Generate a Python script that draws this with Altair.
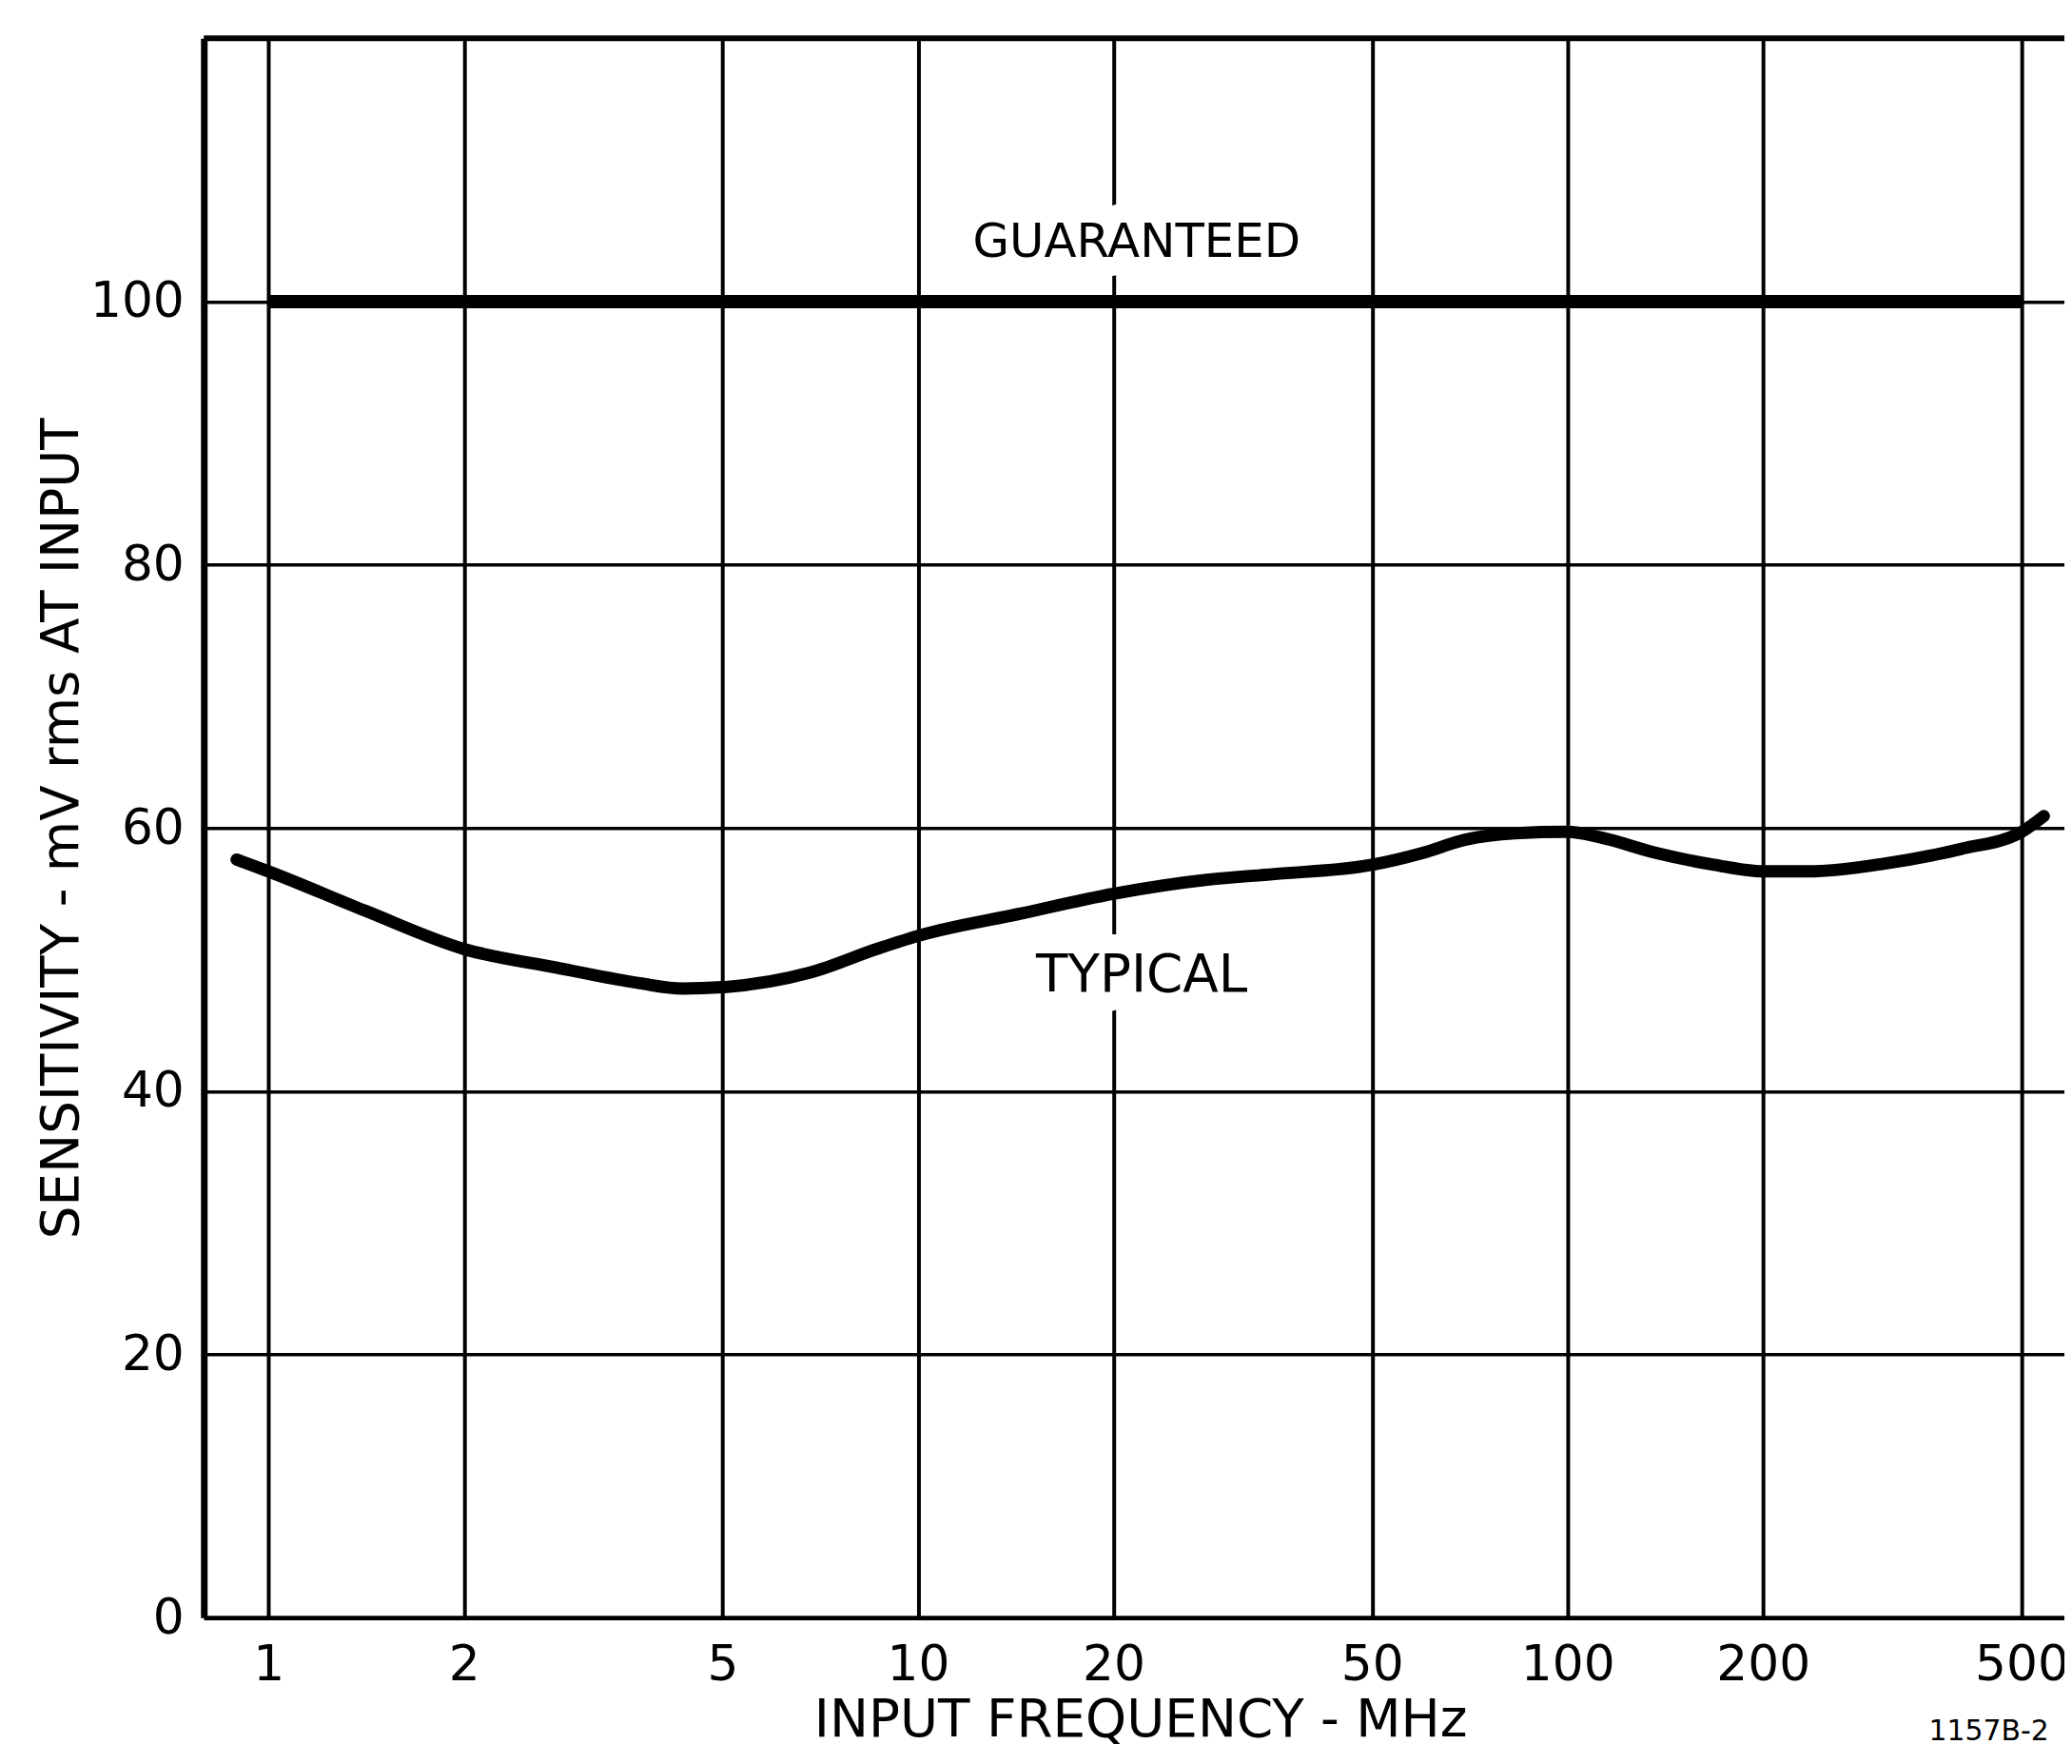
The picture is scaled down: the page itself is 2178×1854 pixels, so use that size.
import altair as alt
import pandas as pd

# ---- data ----
freq_ticks = [1, 2, 5, 10, 20, 50, 100, 200, 500]
sens_ticks = [0, 20, 40, 60, 80, 100, 120]

typ_freq = [0.893, 1.0, 1.41, 2.0, 2.77, 3.73, 4.34, 5.0, 6.81, 8.64, 10, 14.4, 20,
            28.3, 35.4, 50, 59.8, 69.5, 83, 100, 112, 137, 168, 200, 235, 308, 403, 500, 541]
typ_mv = [57.6, 56.7, 53.7, 50.8, 49.4, 48.2, 47.8, 47.9, 49.0, 50.8, 51.8, 53.5, 55.0,
          56.1, 56.5, 57.2, 58.1, 59.1, 59.6, 59.7, 59.3, 58.1, 57.2, 56.7, 56.7, 57.3, 58.4, 59.7, 60.9]

guar_freq = [1, 500]
guar_mv = [100, 100]

top_mv = [120]

note_text = ["GUARANTEED", "TYPICAL"]
note_freq = [21.7, 22.1]
note_mv = [104.5, 48.8]
note_size = [50, 55]

footnote = ["1157B-2"]

FONT = "DejaVu Sans"

typ_df = pd.DataFrame({"f": typ_freq, "v": typ_mv})
guar_df = pd.DataFrame({"f": guar_freq, "v": guar_mv})
top_df = pd.DataFrame({"v": top_mv})
note_df = pd.DataFrame({"t": note_text, "f": note_freq, "v": note_mv, "s": note_size})
foot_df = pd.DataFrame({"t": footnote})

xscale = alt.Scale(type="log", domain=[0.795, 582], nice=False)
yscale = alt.Scale(domain=[0, 120], nice=False, zero=False)

XTITLE = "INPUT  FREQUENCY - MHz"
YTITLE = "SENSITIVITY - mV rms AT INPUT"

xaxis = alt.Axis(
    values=freq_ticks, format="d", grid=True, gridColor="black", gridWidth=4, gridOpacity=1,
    domain=True, domainColor="black", domainWidth=5, ticks=False,
    labelFont=FONT, labelFontSize=52, labelColor="black", labelPadding=25,
    labelFlush=False, labelOverlap=False,
    titleFont=FONT, titleFontSize=55, titleFontWeight="normal",
    titleColor="black", titleX=988, titleY=125, titleAlign="center", titleBaseline="alphabetic",
)
yaxis = alt.Axis(
    values=sens_ticks, grid=True, gridColor="black", gridWidth=3.5, gridOpacity=1,
    domain=True, domainColor="black", domainWidth=7, ticks=False,
    labelExpr="datum.value == 120 ? '' : datum.label",
    labelFont=FONT, labelFontSize=52, labelColor="black", labelPadding=21,
    labelOverlap=False,
    titleFont=FONT, titleFontSize=55, titleFontWeight="normal",
    titleColor="black", titleAngle=270, titleX=-133, titleY=833, titleAlign="center",
    titleBaseline="alphabetic",
)


def X():
    return alt.X("f:Q", scale=xscale, axis=xaxis, title=XTITLE)


def Y():
    return alt.Y("v:Q", scale=yscale, axis=yaxis, title=YTITLE)


typical = alt.Chart(typ_df).mark_line(
    color="black", strokeWidth=13, strokeCap="round", interpolate="monotone"
).encode(x=X(), y=Y())

guaranteed = alt.Chart(guar_df).mark_line(
    color="black", strokeWidth=14, strokeCap="butt"
).encode(x=X(), y=Y())

top_border = alt.Chart(top_df).mark_rule(color="black", strokeWidth=6).encode(y=Y())

halo = alt.Chart(note_df).mark_text(
    font=FONT, color="white", stroke="white", strokeWidth=40, strokeJoin="round",
    align="center", baseline="middle",
).encode(
    x=X(), y=Y(), text="t:N",
    size=alt.Size("s:Q", scale=None, legend=None),
)

notes = alt.Chart(note_df).mark_text(
    font=FONT, color="black", align="center", baseline="middle",
).encode(
    x=X(), y=Y(), text="t:N",
    size=alt.Size("s:Q", scale=None, legend=None),
)

foot = alt.Chart(foot_df).mark_text(
    font=FONT, fontSize=30, color="black", align="left", baseline="top"
).encode(
    x=alt.value(1820), y=alt.value(1771), text="t:N"
)

chart = alt.layer(typical, top_border, halo, guaranteed, notes, foot).properties(
    width=1963, height=1666,
    padding={"left": 207, "top": 29, "right": 0, "bottom": 137},
    autosize=alt.AutoSizeParams(type="none"),
    background="white",
).configure_view(stroke=None)

chart.save("out.html", embed_options={"renderer": "svg", "actions": False})
